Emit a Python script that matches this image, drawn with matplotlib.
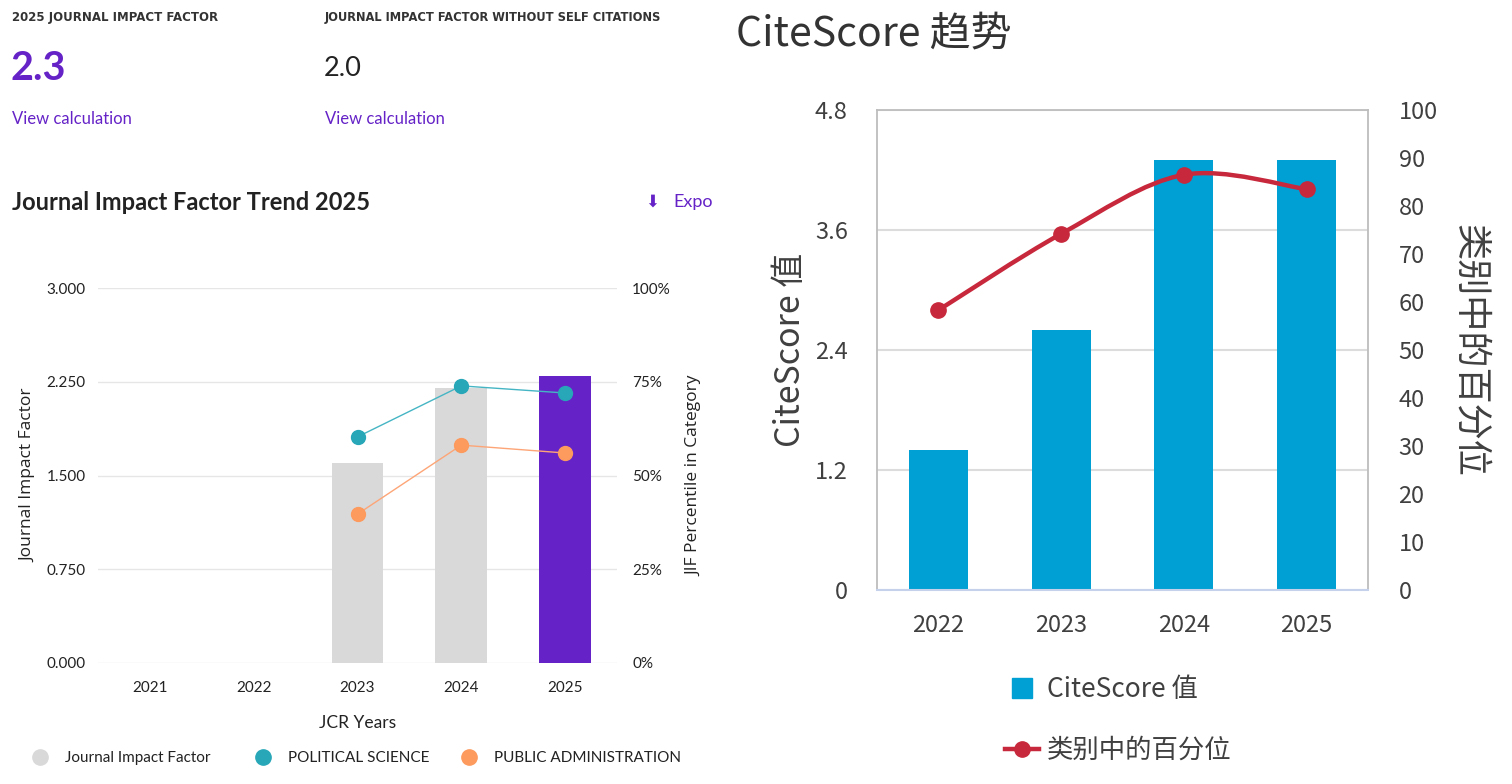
import numpy as np
import matplotlib
matplotlib.use('Agg')
import matplotlib.pyplot as plt
from matplotlib.lines import Line2D
from matplotlib.path import Path
from matplotlib.patches import PathPatch
from matplotlib.ticker import FuncFormatter

# ---- data : Journal Impact Factor trend (left panel)
jcr_years = ['2021', '2022', '2023', '2024', '2025']
jif_values = [np.nan, np.nan, 1.6, 2.2, 2.3]
pol_sci_pct = [np.nan, np.nan, 60.3, 73.9, 72.0]
pub_adm_pct = [np.nan, np.nan, 39.7, 58.1, 56.0]
jif_2025 = '2.3'
jif_no_self = '2.0'

# ---- data : CiteScore trend (right panel)
cs_years = ['2022', '2023', '2024', '2025']
cs_values = [1.4, 2.6, 4.3, 4.3]
cs_pct = [58.3, 74.2, 86.5, 83.5]

W, H = 1512, 784
PURPLE = '#6523c7'
GREY_BAR = '#d9d9d9'
TEAL = '#27a7b8'
ORANGE = '#fd9a5e'
BLUE = '#009fd4'
RED = '#c8283b'
TXT = '#222222'

def rect(x0, y0, x1, y1):
    return [x0 / W, 1 - y1 / H, (x1 - x0) / W, (y1 - y0) / H]

def fx(x):
    return x / W

def fy(y):
    return 1 - y / H

fig = plt.figure(figsize=(W / 100, H / 100), dpi=100)
fig.patch.set_facecolor('white')

# ================= left panel : header texts =================
fig.text(fx(12), fy(18), '2025 JOURNAL IMPACT FACTOR', fontsize=8.5, fontweight='bold',
         family='DejaVu Sans', color='#333333', va='center')
fig.text(fx(325), fy(18), 'JOURNAL IMPACT FACTOR WITHOUT SELF CITATIONS', fontsize=8.3,
         fontweight='bold', family='DejaVu Sans', color='#333333', va='center')
fig.text(fx(10), fy(69), jif_2025, fontsize=28.5, fontweight='bold', family='Lato',
         color=PURPLE, va='center')
fig.text(fx(324), fy(69), jif_no_self, fontsize=19.5, family='Lato', color=TXT, va='center')
fig.text(fx(12), fy(119), 'View calculation', fontsize=12, family='Lato', color=PURPLE, va='center')
fig.text(fx(325), fy(119), 'View calculation', fontsize=12, family='Lato', color=PURPLE, va='center')
fig.text(fx(12), fy(202), 'Journal Impact Factor Trend 2025', fontsize=17, fontweight='bold',
         family='Lato', color=TXT, va='center')
fig.text(fx(645), fy(202), '\u2b07', fontsize=12, family=['DejaVu Sans', 'Noto Sans CJK SC'],
         color=PURPLE, va='center')
fig.text(fx(673), fy(202), 'Expo', fontsize=13, family='Lato', color=PURPLE, va='center')

# ================= left panel : chart =================
ax1 = fig.add_axes(rect(98, 288, 617, 663))
x1 = np.arange(len(jcr_years))
bar_cols = [GREY_BAR] * (len(jcr_years) - 1) + [PURPLE]
ax1.bar(x1, np.nan_to_num(jif_values), width=0.5, color=bar_cols, zorder=2)
ax1.set_xlim(-0.5, len(jcr_years) - 0.5)
ax1.set_ylim(0, 3)
ax1.set_yticks([0, 0.75, 1.5, 2.25, 3.0])
ax1.yaxis.set_major_formatter(FuncFormatter(lambda v, p: '%.3f' % v))
ax1.set_xticks(x1)
ax1.set_xticklabels(jcr_years)
ax1.grid(axis='y', color='#e6e6e6', linewidth=1, zorder=0)
ax1.set_axisbelow(True)
for s in ax1.spines.values():
    s.set_visible(False)
ax1.tick_params(length=0, labelsize=11, colors=TXT)
ax1.tick_params(axis='y', pad=9)
ax1.tick_params(axis='x', pad=13)
for lab in ax1.get_xticklabels() + ax1.get_yticklabels():
    lab.set_family('Lato')
ax1.set_xlabel('JCR Years', fontsize=12.5, family='Lato', color=TXT, labelpad=14)
ax1.set_ylabel('Journal Impact Factor', fontsize=12.5, family='Open Sans', color=TXT, labelpad=7)

ax1b = ax1.twinx()
ax1b.set_ylim(0, 100)
ax1b.set_yticks([0, 25, 50, 75, 100])
ax1b.yaxis.set_major_formatter(FuncFormatter(lambda v, p: '%d%%' % v))
for s in ax1b.spines.values():
    s.set_visible(False)
ax1b.tick_params(length=0, labelsize=11, colors=TXT, pad=11)
for lab in ax1b.get_yticklabels():
    lab.set_family('Lato')
ax1b.set_ylabel('JIF Percentile in Category', fontsize=12.5, family='Open Sans', color=TXT, labelpad=11)
ax1b.plot(x1, pol_sci_pct, color='#45b5c4', lw=1, marker='o', ms=10,
          mfc=TEAL, mec=TEAL, zorder=3)
ax1b.plot(x1, pub_adm_pct, color='#fda577', lw=1, marker='o', ms=10,
          mfc=ORANGE, mec=ORANGE, zorder=3)

# left legend: one entry per legend so each sits where the reference puts it
left_items = [('Journal Impact Factor', '#d9d9d9', 40),
              ('POLITICAL SCIENCE', TEAL, 263),
              ('PUBLIC ADMINISTRATION', ORANGE, 469)]
for lab, col, xpos in left_items:
    h = Line2D([], [], ls='none', marker='o', ms=11, mfc=col, mec=col)
    lg = fig.legend([h], [lab], loc='center left', bbox_to_anchor=(fx(xpos - 23), fy(758)),
                    frameon=False, handletextpad=1.05, handlelength=1.2,
                    prop={'family': 'Lato', 'size': 11})
    lg.get_texts()[0].set_color(TXT)

# ================= right panel : CiteScore =================
CJK = ['Noto Sans CJK SC', 'DejaVu Sans']
GREYTXT = '#404040'
fig.text(fx(736), fy(34), 'CiteScore 趋势', fontsize=29.5, family=CJK, color='#333333', va='center')

ax2 = fig.add_axes(rect(877, 110, 1368, 590))
x2 = np.arange(len(cs_years))
ax2.bar(x2, cs_values, width=0.48, color=BLUE, zorder=2)
ax2.set_xlim(-0.5, len(cs_years) - 0.5)
ax2.set_ylim(0, 4.8)
ax2.set_yticks([0, 1.2, 2.4, 3.6, 4.8])
ax2.yaxis.set_major_formatter(FuncFormatter(lambda v, p: '0' if v == 0 else '%.1f' % v))
ax2.set_xticks(x2)
ax2.set_xticklabels(cs_years)
ax2.grid(axis='y', color='#dcdcdc', linewidth=1.5, zorder=0)
ax2.set_axisbelow(True)
for k in ['left', 'top', 'right']:
    ax2.spines[k].set_color('#bdbdbd')
    ax2.spines[k].set_linewidth(1.3)
ax2.spines['bottom'].set_color('#c5d1ea')
ax2.spines['bottom'].set_linewidth(1.5)
ax2.tick_params(length=0, labelsize=17, colors=GREYTXT)
ax2.tick_params(axis='y', pad=21)
ax2.tick_params(axis='x', pad=17)
for lab in ax2.get_xticklabels() + ax2.get_yticklabels():
    lab.set_family(CJK)
ax2.set_ylabel('CiteScore 值', fontsize=24.5, family=CJK, color=GREYTXT, labelpad=5)

ax2b = ax2.twinx()
ax2b.set_ylim(0, 100)
ax2b.set_yticks(np.arange(0, 101, 10))
for s in ax2b.spines.values():
    s.set_visible(False)
ax2b.tick_params(length=0, labelsize=17, colors=GREYTXT, pad=22)
for lab in ax2b.get_yticklabels():
    lab.set_family(CJK)
ax2b.set_ylabel('类别中的百分位', fontsize=26, family=CJK, color=GREYTXT, rotation=270,
                labelpad=36)

# smoothed percentile line (Catmull-Rom -> cubic bezier through the points)
pts = np.column_stack([x2, cs_pct]).astype(float)
ext = np.vstack([pts[0], pts, pts[-1]])
verts = [tuple(pts[0])]
codes = [Path.MOVETO]
for i in range(len(pts) - 1):
    p0, p1, p2, p3 = ext[i], ext[i + 1], ext[i + 2], ext[i + 3]
    c1 = p1 + (p2 - p0) / 6.0
    c2 = p2 - (p3 - p1) / 6.0
    verts += [tuple(c1), tuple(c2), tuple(p2)]
    codes += [Path.CURVE4] * 3
ax2b.add_patch(PathPatch(Path(verts, codes), fill=False, edgecolor=RED, lw=3.2,
                         capstyle='round', joinstyle='round', zorder=3))
ax2b.plot(x2, cs_pct, ls='none', marker='o', ms=11, mfc=RED, mec=RED, zorder=4)

h_right = [Line2D([], [], ls='none', marker='s', ms=14, mfc=BLUE, mec=BLUE),
           Line2D([], [], color=RED, lw=3.2, marker='o', ms=11, mfc=RED, mec=RED)]
leg2 = fig.legend(h_right, ['CiteScore 值', '类别中的百分位'], loc='upper left',
                  bbox_to_anchor=(fx(981), fy(652)), frameon=False, handlelength=1.3,
                  handletextpad=0.3, labelspacing=1.3, prop={'family': CJK, 'size': 19})
for t in leg2.get_texts():
    t.set_color(GREYTXT)

fig.savefig('out.png', dpi=100, facecolor='white')
